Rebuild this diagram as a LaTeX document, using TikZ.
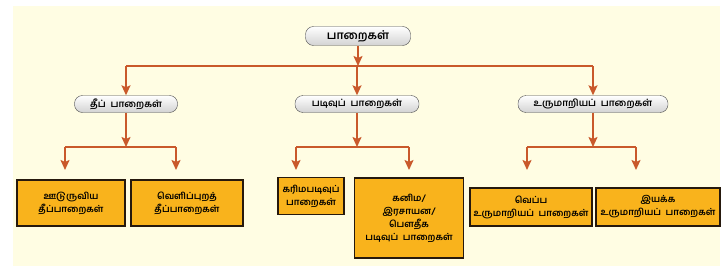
\documentclass[tikz,border=0pt]{standalone}
\usepackage{fontspec}
\newfontfamily\tam[Script=Tamil]{Hind Madurai}
\usetikzlibrary{arrows.meta}
\definecolor{cream}{HTML}{FFFDE3}
\definecolor{rust}{HTML}{C9592B}
\definecolor{amber}{HTML}{F9B31C}
\begin{document}
\begin{tikzpicture}[x=1pt,y=-1pt,
    pill/.style={draw=gray!60!black, rounded corners=8pt, top color=white, bottom color=gray!35,
                 minimum height=17pt, inner sep=1pt, font=\tam\bfseries\fontsize{9.5}{11}\selectfont},
    leaf/.style={draw=black!80!brown, line width=1.1pt, fill=amber, align=center,
                 inner sep=2pt, font=\tam\bfseries\fontsize{9.2}{13}\selectfont},
    link/.style={rust, line width=1.6pt},
    arr/.style={link, -{Stealth[length=10pt,width=9pt,inset=2pt]}}]
    % Canvas
    \useasboundingbox (0,0) rectangle (727,278);
    \fill[cream] (13,6) rectangle (720,266);

    % Top node and the three rock families
    \node[pill, minimum width=105pt, minimum height=19pt, font=\tam\bfseries\fontsize{11.5}{13}\selectfont] (root) at (358,36) {பாறைகள்};
    \node[pill, minimum width=103pt] (igneous) at (126,104) {தீப்~ பாறைகள்};
    \node[pill, minimum width=124pt] (sed) at (357,104) {படிவுப்~ பாறைகள்};
    \node[pill, minimum width=150pt] (meta) at (593,104) {உருமாறியப்~ பாறைகள்};

    % Sub types
    \node[leaf, minimum width=108pt, minimum height=46pt] (intr) at (71,203) {ஊடுருவிய\\தீப்பாறைகள்};
    \node[leaf, minimum width=112pt, minimum height=46pt] (extr) at (187,203) {வெளிப்புறத்\\தீப்பாறைகள்};
    \node[leaf, minimum width=66pt, minimum height=37pt] (org) at (311,196) {கரிமபடிவுப்\\பாறைகள்};
    \node[leaf, minimum width=109pt, minimum height=80pt] (chem) at (409,218) {கனிம/\\இரசாயன/\\பௌதீக\\படிவுப்~ பாறைகள்};
    \node[leaf, minimum width=122pt, minimum height=38pt] (therm) at (531,207) {வெப்ப\\உருமாறியப்~ பாறைகள்};
    \node[leaf, minimum width=124pt, minimum height=38pt] (dyn) at (658,207) {இயக்க\\உருமாறியப்~ பாறைகள்};

    % First split
    \coordinate (j0) at (358,66);
    \draw[arr] (root) -- (j0);
    \draw[link] (igneous |- j0) -- (meta |- j0);
    \foreach \n in {igneous, sed, meta}
        \draw[arr] (\n |- j0) -- (\n.north);

    % Second split, arrows stop above the boxes
    \foreach \n/\l/\r in {igneous/65/176, sed/296/409, meta/527/636} {
        \coordinate (\n-l) at (\l,170);
        \coordinate (\n-r) at (\r,170);
        \coordinate (\n-j) at (\n |- 0,147);
        \draw[arr] (\n) -- (\n-j);
        \draw[link] (\n-l |- \n-j) -- (\n-r |- \n-j);
        \draw[arr] (\n-l |- \n-j) -- (\n-l);
        \draw[arr] (\n-r |- \n-j) -- (\n-r);
    }
\end{tikzpicture}
\end{document}
